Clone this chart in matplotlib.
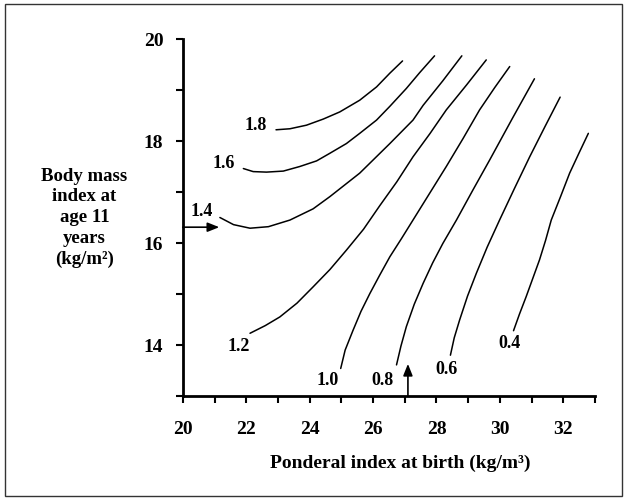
import matplotlib
matplotlib.use("Agg")
import matplotlib.pyplot as plt
from matplotlib.patches import Rectangle

# Contour levels and their traced lines (x = ponderal index, y = BMI)
levels = ["1.8", "1.6", "1.4", "1.2", "1.0", "0.8", "0.6", "0.4"]

c18_x = [22.94, 23.38, 23.90, 24.43, 24.95, 25.58, 26.11, 26.53, 26.93]
c18_y = [18.22, 18.24, 18.31, 18.43, 18.57, 18.80, 19.06, 19.33, 19.57]

c16_x = [21.91, 22.22, 22.64, 23.17, 23.69, 24.22, 24.64, 25.16, 25.58,
         26.11, 26.53, 27.05, 27.47, 27.94]
c16_y = [17.46, 17.40, 17.39, 17.41, 17.50, 17.61, 17.76, 17.95, 18.15,
         18.41, 18.68, 19.03, 19.34, 19.67]

c14_x = [21.17, 21.60, 22.12, 22.70, 23.38, 24.11, 24.64, 25.58, 26.53,
         27.26, 27.58, 28.20, 28.80]
c14_y = [16.50, 16.36, 16.29, 16.32, 16.45, 16.67, 16.91, 17.37, 17.95,
         18.41, 18.70, 19.18, 19.67]

c12_x = [22.12, 22.60, 23.06, 23.60, 24.11, 24.64, 25.16, 25.70, 26.21,
         26.75, 27.26, 27.80, 28.31, 28.95, 29.57]
c12_y = [14.23, 14.38, 14.55, 14.82, 15.14, 15.48, 15.86, 16.27, 16.73,
         17.20, 17.69, 18.15, 18.61, 19.10, 19.59]

c10_x = [24.98, 25.12, 25.37, 25.62, 25.90, 26.21, 26.53, 26.90, 27.26,
         27.78, 28.31, 28.84, 29.36, 29.84, 30.31]
c10_y = [13.54, 13.90, 14.29, 14.66, 15.01, 15.37, 15.73, 16.09, 16.45,
         16.97, 17.50, 18.05, 18.61, 19.05, 19.46]

c08_x = [26.74, 26.88, 27.05, 27.30, 27.58, 27.88, 28.20, 28.63, 29.15,
         29.68, 30.40, 31.09]
c08_y = [13.61, 13.98, 14.36, 14.80, 15.21, 15.61, 15.99, 16.45, 17.04,
         17.63, 18.45, 19.22]

c06_x = [28.44, 28.56, 28.73, 28.98, 29.26, 29.60, 29.99, 30.46, 30.94,
         31.42, 31.90]
c06_y = [13.80, 14.14, 14.49, 14.96, 15.41, 15.92, 16.45, 17.07, 17.69,
         18.28, 18.86]

c04_x = [30.43, 30.62, 30.83, 31.04, 31.25, 31.44, 31.62, 31.92, 32.20,
         32.50, 32.79]
c04_y = [14.28, 14.61, 14.95, 15.31, 15.67, 16.05, 16.45, 16.92, 17.37,
         17.77, 18.15]

lines_x = [c18_x, c16_x, c14_x, c12_x, c10_x, c08_x, c06_x, c04_x]
lines_y = [c18_y, c16_y, c14_y, c12_y, c10_y, c08_y, c06_y, c04_y]

label_x = [22.30, 21.28, 20.60, 21.75, 24.58, 26.30, 28.31, 30.31]
label_y = [18.31, 17.55, 16.61, 13.98, 13.31, 13.31, 13.52, 14.03]

# Reference arrows
arrow_h_y = 16.31
arrow_h_end = 21.15
arrow_v_x = 27.10
arrow_v_end = 13.63

x_ticks = list(range(20, 34))
x_ticklabels = [str(v) if v % 2 == 0 and v <= 32 else "" for v in x_ticks]
y_ticks = list(range(13, 21))
y_ticklabels = [str(v) if v % 2 == 0 else "" for v in y_ticks]

serif = ["Liberation Serif", "DejaVu Serif"]

fig = plt.figure(figsize=(6.26, 5.0), dpi=100)
ax = fig.add_axes([0.292, 0.208, 0.6585, 0.714])

for xs, ys in zip(lines_x, lines_y):
    ax.plot(xs, ys, color="black", lw=1.1, solid_capstyle="round",
            solid_joinstyle="round")

for t, lx, ly in zip(levels, label_x, label_y):
    ax.text(lx, ly, t, ha="center", va="center", fontsize=13,
            fontweight="bold", family=serif)

ax.annotate("", xy=(arrow_h_end, arrow_h_y), xytext=(20, arrow_h_y),
            arrowprops=dict(arrowstyle="-|>,head_length=0.7,head_width=0.28",
                            color="black", lw=1.2, shrinkA=0, shrinkB=0))
ax.annotate("", xy=(arrow_v_x, arrow_v_end), xytext=(arrow_v_x, 13),
            arrowprops=dict(arrowstyle="-|>,head_length=0.7,head_width=0.28",
                            color="black", lw=1.2, shrinkA=0, shrinkB=0))

ax.set_xlim(20, 33)
ax.set_ylim(13, 20)
for s in ["top", "right"]:
    ax.spines[s].set_visible(False)
for s in ["left", "bottom"]:
    ax.spines[s].set_linewidth(2.0)

ax.set_xticks(x_ticks)
ax.set_xticklabels(x_ticklabels)
ax.set_yticks(y_ticks)
ax.set_yticklabels(y_ticklabels)
ax.tick_params(direction="out", length=5, width=1.5, pad=13, labelsize=14)
ax.tick_params(axis="y", pad=9)
for lab in ax.get_xticklabels() + ax.get_yticklabels():
    lab.set_family(serif)
    lab.set_fontweight("bold")

fig.text(0.639, 0.074, "Ponderal index at birth (kg/m\u00b3)", ha="center",
         va="center", fontsize=14, fontweight="bold", family=serif)
fig.text(0.135, 0.564, "Body mass\nindex at\nage 11\nyears\n(kg/m\u00b2)",
         ha="center", va="center", fontsize=13.5, fontweight="bold",
         family=serif, linespacing=1.3)

fig.patches.append(Rectangle((0.008, 0.008), 0.985, 0.984, transform=fig.transFigure,
                             fill=False, edgecolor="#333333", lw=1.0))

fig.savefig("out.png", dpi=100)
